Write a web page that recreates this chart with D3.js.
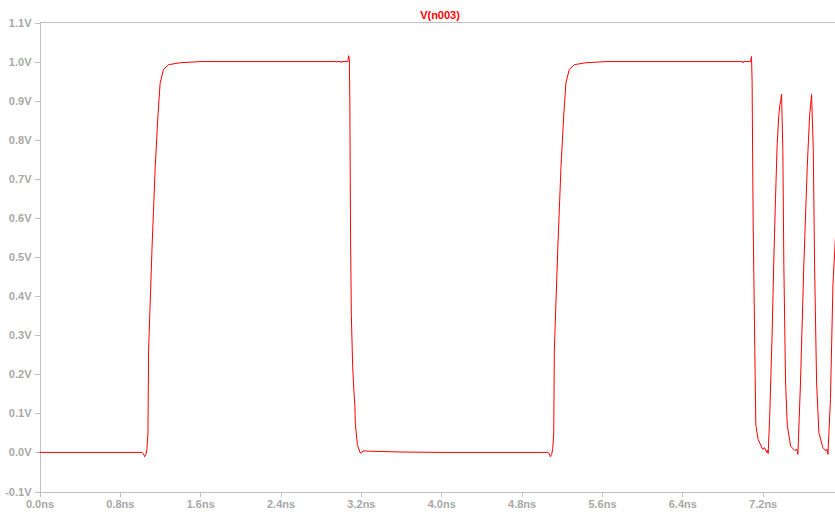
<!DOCTYPE html>
<html>
<head>
<meta charset="utf-8">
<script src="https://cdn.jsdelivr.net/npm/d3@7"></script>
<style>
  html, body { margin: 0; padding: 0; background: #ffffff; overflow: hidden; }
  svg { display: block; }
</style>
</head>
<body>
<svg id="chart" width="835" height="514"></svg>
<script>
// ---- data ----
const title = "V(n003)";
const timesNs = [
  0, 1.00, 1.02, 1.035, 1.046, 1.06, 1.07, 1.080, 1.086, 1.103, 1.12, 1.152, 1.179, 1.201, 1.235, 1.285, 1.40, 1.6,
  3.0, 3.005, 3.01, 3.07, 3.078, 3.085, 3.090, 3.097, 3.105, 3.118, 3.132, 3.14, 3.145, 3.165, 3.19, 3.205, 3.22, 3.3, 3.6, 4.0,
  5.00, 5.06, 5.075, 5.086, 5.10, 5.11, 5.12, 5.126, 5.143, 5.16, 5.192, 5.219, 5.241, 5.275, 5.325, 5.44, 5.64,
  7.0, 7.005, 7.01, 7.08, 7.089, 7.095, 7.105, 7.122, 7.132, 7.155, 7.20, 7.22, 7.24, 7.248, 7.255,
  7.27, 7.295, 7.31, 7.328, 7.345, 7.36, 7.372, 7.38, 7.388,
  7.401, 7.411, 7.428, 7.445, 7.478, 7.52, 7.54, 7.551,
  7.577, 7.61, 7.644, 7.667, 7.678, 7.687,
  7.704, 7.717, 7.737, 7.76, 7.80, 7.83, 7.84, 7.85,
  7.875, 7.9, 7.925
];
const volts = [
  0, 0, 0.000, -0.003, -0.011, -0.005, 0.01, 0.05, 0.26, 0.39, 0.52, 0.73, 0.86, 0.945, 0.98, 0.992, 0.997, 1.0,
  1.0, 0.997, 1.0, 1.0, 1.015, 1.005, 0.9, 0.55, 0.35, 0.22, 0.15, 0.12, 0.072, 0.02, 0.0, -0.002, 0.004, 0.003, 0.001, 0,
  0, 0.000, -0.003, -0.011, -0.005, 0.01, 0.05, 0.26, 0.39, 0.52, 0.73, 0.86, 0.945, 0.98, 0.992, 0.997, 1.0,
  1.0, 0.997, 1.0, 1.0, 1.013, 0.95, 0.6, 0.26, 0.07, 0.033, 0.008, 0.012, 0.0, 0.006, -0.003,
  0.09, 0.31, 0.48, 0.65, 0.79, 0.86, 0.89, 0.90, 0.917,
  0.775, 0.48, 0.18, 0.07, 0.016, 0.005, 0.008, -0.005,
  0.18, 0.48, 0.73, 0.86, 0.89, 0.916,
  0.775, 0.48, 0.18, 0.05, 0.012, 0.004, 0.008, -0.005,
  0.135, 0.43, 0.55
];
const yTicks = [-0.1, 0.0, 0.1, 0.2, 0.3, 0.4, 0.5, 0.6, 0.7, 0.8, 0.9, 1.0, 1.1];
const xTicks = [0.0, 0.8, 1.6, 2.4, 3.2, 4.0, 4.8, 5.6, 6.4, 7.2];

// ---- layout ----
const svg = d3.select("#chart");
const padL = 39.5, padT = 22.5, padB = 491.5, padR = 843;
const x = d3.scaleLinear().domain([0, 8]).range([padL, padR]);
const y = d3.scaleLinear().domain([-0.1, 1.1]).range([padB, padT]);
const axisColor = "#c0c0c0";
const textColor = "#a8a8a8";
const font = "'Liberation Sans', Arial, sans-serif";

// top border
svg.append("line")
  .attr("x1", padL).attr("x2", padR).attr("y1", padT).attr("y2", padT)
  .attr("stroke", axisColor).attr("shape-rendering", "crispEdges");

const yAxis = svg.append("g")
  .attr("transform", `translate(${padL},0)`)
  .call(d3.axisLeft(y).tickValues(yTicks).tickSize(5).tickPadding(3)
    .tickFormat(d => d.toFixed(1) + "V"));
const xAxis = svg.append("g")
  .attr("transform", `translate(0,${padB})`)
  .call(d3.axisBottom(x).tickValues(xTicks).tickSize(5).tickPadding(4)
    .tickFormat(d => d.toFixed(1) + "ns"));

[yAxis, xAxis].forEach(g => {
  g.selectAll("path.domain").attr("stroke", axisColor).attr("shape-rendering", "crispEdges");
  g.selectAll(".tick line").attr("stroke", axisColor).attr("shape-rendering", "crispEdges");
  g.selectAll(".tick text").attr("fill", textColor)
    .style("font-family", font).style("font-size", "11px").style("font-weight", "bold");
});

// title
svg.append("text")
  .attr("x", 440).attr("y", 18.5)
  .attr("text-anchor", "middle")
  .attr("fill", "#ff0000")
  .style("font-family", font).style("font-size", "11px").style("font-weight", "bold")
  .text(title);

// waveform
const pts = timesNs.map((t, i) => [t, volts[i]]);
const line = d3.line().x(d => x(d[0])).y(d => y(d[1]));
svg.append("path")
  .datum(pts)
  .attr("d", line)
  .attr("fill", "none")
  .attr("stroke", "#ff0000")
  .attr("stroke-width", 1);
</script>
</body>
</html>
